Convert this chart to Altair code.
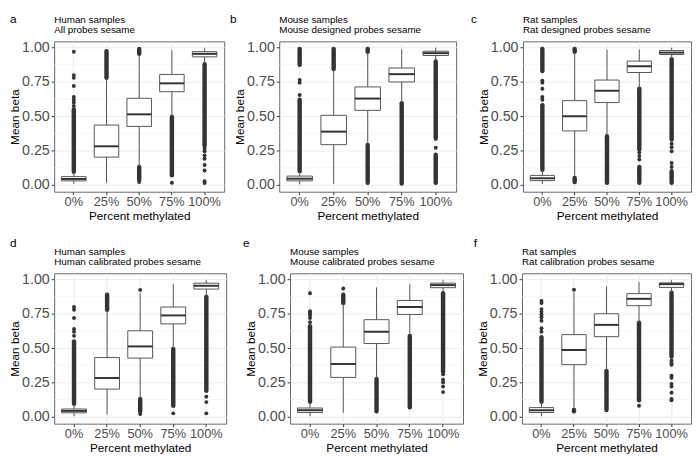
import altair as alt
import pandas as pd

FONT = "Liberation Sans"
CATEGORIES = ["0%", "25%", "50%", "75%", "100%"]
Y_TICKS = [0.0, 0.25, 0.5, 0.75, 1.0]
Y_MINOR = [0.125, 0.375, 0.625, 0.875]
Y_DOMAIN = [-0.05, 1.046]

# ---------------- panel a ----------------
A_LETTER = "a"
A_TITLE = "Human samples\nAll probes sesame"
A_LO = [0.008, 0.014, 0.135, 0.500, 0.885]
A_Q1 = [0.029, 0.202, 0.426, 0.679, 0.933]
A_MED = [0.043, 0.281, 0.514, 0.740, 0.955]
A_Q3 = [0.060, 0.436, 0.631, 0.805, 0.971]
A_HI = [0.090, 0.775, 0.945, 0.983, 0.995]
A_OUT_RANGES = [("0%", 0.095, 0.55), ("25%", 0.78, 0.975), ("50%", 0.955, 0.99),
                ("50%", 0.035, 0.13), ("75%", 0.07, 0.495), ("100%", 0.285, 0.88)]
A_OUT_POINTS = [("0%", 0.575), ("0%", 0.60), ("0%", 0.62), ("0%", 0.64), ("0%", 0.72),
                ("0%", 0.78), ("0%", 0.80), ("0%", 0.97), ("50%", 0.02), ("75%", 0.015),
                ("100%", 0.265), ("100%", 0.245), ("100%", 0.215), ("100%", 0.19),
                ("100%", 0.145), ("100%", 0.105), ("100%", 0.026), ("100%", 0.014)]

# ---------------- panel b ----------------
B_LETTER = "b"
B_TITLE = "Mouse samples\nMouse designed probes sesame"
B_LO = [0.005, 0.007, 0.300, 0.600, 0.907]
B_Q1 = [0.029, 0.293, 0.543, 0.750, 0.943]
B_MED = [0.045, 0.388, 0.629, 0.807, 0.960]
B_Q3 = [0.064, 0.507, 0.714, 0.852, 0.974]
B_HI = [0.100, 0.840, 0.960, 0.988, 1.000]
B_OUT_RANGES = [("0%", 0.10, 0.62), ("0%", 0.875, 0.99), ("25%", 0.845, 0.99),
                ("50%", 0.97, 0.99), ("50%", 0.015, 0.29), ("75%", 0.01, 0.595),
                ("100%", 0.345, 0.90), ("100%", 0.015, 0.22)]
B_OUT_POINTS = [("0%", 0.655), ("0%", 0.745), ("0%", 0.765), ("100%", 0.335), ("100%", 0.27)]

# ---------------- panel c ----------------
C_LETTER = "c"
C_TITLE = "Rat samples\nRat designed probes sesame"
C_LO = [0.007, 0.060, 0.360, 0.700, 0.920]
C_Q1 = [0.031, 0.393, 0.600, 0.819, 0.950]
C_MED = [0.048, 0.500, 0.686, 0.864, 0.964]
C_Q3 = [0.069, 0.614, 0.764, 0.902, 0.979]
C_HI = [0.110, 0.965, 0.986, 0.988, 1.000]
C_OUT_RANGES = [("0%", 0.11, 0.58), ("0%", 0.83, 0.99), ("25%", 0.97, 0.99),
                ("25%", 0.02, 0.05), ("50%", 0.015, 0.355), ("75%", 0.26, 0.70),
                ("75%", 0.015, 0.13), ("100%", 0.33, 0.915), ("100%", 0.015, 0.10)]
C_OUT_POINTS = [("0%", 0.62), ("0%", 0.64), ("0%", 0.70), ("0%", 0.745), ("0%", 0.76),
                ("75%", 0.235), ("75%", 0.21), ("75%", 0.185), ("100%", 0.30),
                ("100%", 0.275), ("100%", 0.245), ("100%", 0.16), ("100%", 0.13)]

# ---------------- panel d ----------------
D_LETTER = "d"
D_TITLE = "Human samples\nHuman calibrated probes sesame"
D_LO = [0.005, 0.017, 0.135, 0.500, 0.880]
D_Q1 = [0.029, 0.202, 0.428, 0.677, 0.931]
D_MED = [0.043, 0.283, 0.513, 0.739, 0.955]
D_Q3 = [0.057, 0.432, 0.627, 0.800, 0.974]
D_HI = [0.090, 0.775, 0.900, 0.967, 0.995]
D_OUT_RANGES = [("0%", 0.095, 0.55), ("25%", 0.78, 0.89), ("50%", 0.04, 0.13),
                ("75%", 0.08, 0.495), ("100%", 0.19, 0.875)]
D_OUT_POINTS = [("0%", 0.59), ("0%", 0.62), ("0%", 0.64), ("0%", 0.72), ("0%", 0.78),
                ("0%", 0.80), ("50%", 0.925), ("50%", 0.02), ("75%", 0.025),
                ("100%", 0.147), ("100%", 0.107), ("100%", 0.025)]

# ---------------- panel e ----------------
E_LETTER = "e"
E_TITLE = "Mouse samples\nMouse calibrated probes sesame"
E_LO = [0.005, 0.030, 0.280, 0.595, 0.907]
E_Q1 = [0.031, 0.287, 0.534, 0.746, 0.941]
E_MED = [0.048, 0.385, 0.620, 0.800, 0.960]
E_Q3 = [0.064, 0.508, 0.708, 0.848, 0.974]
E_HI = [0.107, 0.825, 0.943, 0.967, 0.995]
E_OUT_RANGES = [("0%", 0.11, 0.66), ("25%", 0.83, 0.89), ("50%", 0.04, 0.275),
                ("75%", 0.07, 0.59), ("100%", 0.33, 0.90)]
E_OUT_POINTS = [("0%", 0.69), ("0%", 0.72), ("0%", 0.74), ("0%", 0.755), ("0%", 0.77),
                ("0%", 0.90), ("25%", 0.935), ("100%", 0.31), ("100%", 0.27),
                ("100%", 0.25), ("100%", 0.22), ("100%", 0.18)]

# ---------------- panel f ----------------
F_LETTER = "f"
F_TITLE = "Rat samples\nRat calibration probes sesame"
F_LO = [0.005, 0.064, 0.337, 0.686, 0.907]
F_Q1 = [0.031, 0.380, 0.584, 0.810, 0.943]
F_MED = [0.048, 0.487, 0.670, 0.860, 0.967]
F_Q3 = [0.067, 0.599, 0.751, 0.898, 0.976]
F_HI = [0.110, 0.907, 0.950, 0.983, 0.995]
F_OUT_RANGES = [("0%", 0.11, 0.58), ("25%", 0.04, 0.05), ("50%", 0.05, 0.335),
                ("75%", 0.12, 0.685), ("100%", 0.44, 0.905)]
F_OUT_POINTS = [("0%", 0.62), ("0%", 0.645), ("0%", 0.70), ("0%", 0.725), ("0%", 0.745),
                ("0%", 0.765), ("0%", 0.785), ("0%", 0.83), ("0%", 0.845), ("25%", 0.926),
                ("75%", 0.08), ("100%", 0.41), ("100%", 0.39), ("100%", 0.38),
                ("100%", 0.30), ("100%", 0.285), ("100%", 0.24), ("100%", 0.22),
                ("100%", 0.175), ("100%", 0.13), ("100%", 0.12)]


def panel(letter, title, lo, q1, med, q3, hi, ranges, points, width, height,
          letter_dx, letter_y):
    step = width / 5.2
    box_df = pd.DataFrame({"cat": CATEGORIES, "lo": lo, "q1": q1, "med": med,
                           "q3": q3, "hi": hi})
    rng_df = pd.DataFrame(ranges, columns=["cat", "lo", "hi"])
    pts_df = pd.DataFrame(points, columns=["cat", "v"])
    minor_df = pd.DataFrame({"v": Y_MINOR})
    letter_df = pd.DataFrame({"t": [letter]})
    title_df = pd.DataFrame({"t": [title]})

    xenc = alt.X("cat:N",
                 scale=alt.Scale(domain=CATEGORIES, paddingInner=0, paddingOuter=0.1),
                 axis=alt.Axis(title="Percent methylated", labelAngle=0, grid=True),
                 title="Percent methylated")

    def yenc(field):
        return alt.Y(f"{field}:Q",
                     scale=alt.Scale(domain=Y_DOMAIN, nice=False, zero=False),
                     axis=alt.Axis(values=Y_TICKS, format=".2f", title="Mean beta",
                                   grid=True),
                     title="Mean beta")

    minor = alt.Chart(minor_df).mark_rule(color="#F0F0F0", strokeWidth=0.7).encode(
        y=yenc("v"))
    bands = alt.Chart(rng_df).mark_rule(color="#333333", strokeWidth=4.5,
                                        strokeCap="round").encode(
        x=xenc, y=yenc("lo"), y2="hi:Q")
    dots = alt.Chart(pts_df).mark_circle(color="#333333", size=16, opacity=1).encode(
        x=xenc, y=yenc("v"))
    whisk = alt.Chart(box_df).mark_rule(color="#555555", strokeWidth=1).encode(
        x=xenc, y=yenc("lo"), y2="hi:Q")
    box = alt.Chart(box_df).mark_bar(width=alt.RelativeBandSize(0.75), fill="white",
                                     stroke="#555555", strokeWidth=1,
                                     fillOpacity=1).encode(
        x=xenc, y=yenc("q1"), y2="q3:Q")
    medt = alt.Chart(box_df).mark_tick(color="#333333", thickness=2,
                                       size=0.75 * step, opacity=1).encode(
        x=xenc, y=yenc("med"))
    let = alt.Chart(letter_df).mark_text(align="left", baseline="alphabetic",
                                         fontSize=12, font=FONT, color="black").encode(
        x=alt.value(letter_dx), y=alt.value(letter_y), text="t:N")
    ttl = alt.Chart(title_df).mark_text(align="left", baseline="alphabetic",
                                        fontSize=10, font=FONT, color="black",
                                        lineBreak="\n", lineHeight=10).encode(
        x=alt.value(0), y=alt.value(-18.5), text="t:N")
    return alt.layer(minor, bands, dots, whisk, box, medt, let, ttl).properties(
        width=width, height=height)


pa = panel(A_LETTER, A_TITLE, A_LO, A_Q1, A_MED, A_Q3, A_HI, A_OUT_RANGES, A_OUT_POINTS,
           173, 153, -45, -19)
pb = panel(B_LETTER, B_TITLE, B_LO, B_Q1, B_MED, B_Q3, B_HI, B_OUT_RANGES, B_OUT_POINTS,
           180, 153, -50, -19)
pc = panel(C_LETTER, C_TITLE, C_LO, C_Q1, C_MED, C_Q3, C_HI, C_OUT_RANGES, C_OUT_POINTS,
           171, 153, -53, -19)
pd_ = panel(D_LETTER, D_TITLE, D_LO, D_Q1, D_MED, D_Q3, D_HI, D_OUT_RANGES, D_OUT_POINTS,
            175, 153, -45, -26.3)
pe = panel(E_LETTER, E_TITLE, E_LO, E_Q1, E_MED, E_Q3, E_HI, E_OUT_RANGES, E_OUT_POINTS,
           176, 153, -48, -26.3)
pf = panel(F_LETTER, F_TITLE, F_LO, F_Q1, F_MED, F_Q3, F_HI, F_OUT_RANGES, F_OUT_POINTS,
           172, 153, -49, -26.3)

row1 = alt.hconcat(alt.hconcat(pa, pb, spacing=4), pc, spacing=13)
row2 = alt.hconcat(alt.hconcat(pd_, pe, spacing=15), pf, spacing=9)

chart = alt.vconcat(row1, row2, spacing=15).properties(
    padding=0, background="white"
).configure(font=FONT).configure_view(
    stroke="#666666", strokeWidth=1
).configure_axis(
    gridColor="#EBEBEB", gridWidth=1, domain=False, tickColor="#333333", tickSize=3,
    labelPadding=2, labelColor="#4D4D4D", labelFont=FONT, titleFont=FONT,
    titleFontWeight="normal", titleColor="black", titlePadding=0, titleFontSize=12
).configure_axisX(labelFontSize=13, labelPadding=1, titlePadding=2).configure_axisY(
    labelFontSize=14.5)

chart.save("out.html", embed_options={"renderer": "svg", "actions": False})
